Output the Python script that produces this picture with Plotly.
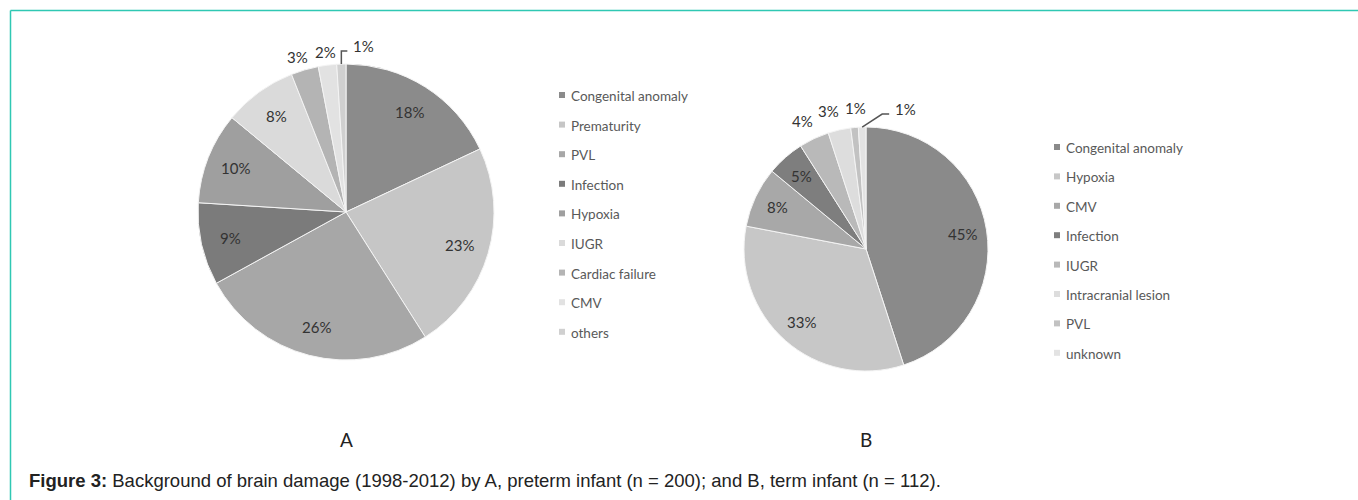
import numpy as np
import plotly.graph_objects as go

W, H = 1358, 500

# Preterm infants (A)
preterm_causes = ["Congenital anomaly", "Prematurity", "PVL", "Infection", "Hypoxia",
                  "IUGR", "Cardiac failure", "CMV", "others"]
preterm_pct = [18, 23, 26, 9, 10, 8, 3, 2, 1]
preterm_colors = ["#8b8b8b", "#c6c6c6", "#a7a7a7", "#7b7b7b", "#9f9f9f",
                  "#dadada", "#b4b4b4", "#e2e2e2", "#d0d0d0"]
preterm_label_mode = ["in"] * 6 + ["out", "out", "lead"]
preterm_label_nudge = [0] * 6 + [-3, 0, 0]

# Term infants (B)
term_causes = ["Congenital anomaly", "Hypoxia", "CMV", "Infection", "IUGR",
               "Intracranial lesion", "PVL", "unknown"]
term_pct = [45, 33, 8, 5, 4, 3, 1, 1]
term_colors = ["#8a8a8a", "#c7c7c7", "#a8a8a8", "#7e7e7e", "#b9b9b9",
               "#dddddd", "#c2c2c2", "#e3e3e3"]
term_label_mode = ["in"] * 4 + ["out", "out", "out", "lead"]
term_label_nudge = [0] * 4 + [-3, -7, 3, 0]

panel_letters = ["A", "B"]
caption = ("<b>Figure 3:</b> Background of brain damage (1998-2012) by A, preterm infant "
           "(n = 200); and B, term infant (n = 112).")

TEXT_FONT = "Lato, Carlito, Calibri, sans-serif"
LABEL_COLOR = "#333333"
LEGEND_COLOR = "#595959"
BORDER = "#2fc8b3"

# Layout geometry for each pie, in page pixels
pies = [
    dict(causes=preterm_causes, pct=preterm_pct, colors=preterm_colors,
         modes=preterm_label_mode, nudge=preterm_label_nudge,
         cx=346, cy=212, r=148, k_in=0.80, k_out=1.09,
         lead=(0, -13, 6), legend_x=562, legend_y0=96, legend_dy=29.6, letter_x=346),
    dict(causes=term_causes, pct=term_pct, colors=term_colors,
         modes=term_label_mode, nudge=term_label_nudge,
         cx=866, cy=249, r=122, k_in=0.80, k_out=1.16,
         lead=(20, -13, 7), legend_x=1057, legend_y0=148, legend_dy=29.4, letter_x=866),
]

fig = go.Figure()
# empty trace so the pixel-unit helper axes exist for shapes/annotations
fig.add_trace(go.Scatter(x=[], y=[], showlegend=False, hoverinfo="skip"))

annotations = []
shapes = []

for p in pies:
    cx, cy, r = p["cx"], p["cy"], p["r"]
    fig.add_trace(go.Pie(
        labels=p["causes"], values=p["pct"], sort=False, direction="clockwise",
        rotation=0, textinfo="none", hoverinfo="label+value",
        marker=dict(colors=p["colors"], line=dict(color="#f4f4f4", width=1)),
        domain=dict(x=[(cx - r) / W, (cx + r) / W],
                    y=[(H - cy - r) / H, (H - cy + r) / H]),
        showlegend=False,
    ))

    vals = np.array(p["pct"], dtype=float)
    ends = np.cumsum(vals) / vals.sum() * 360.0
    starts = ends - vals / vals.sum() * 360.0
    mids = np.radians((starts + ends) / 2)

    for v, th, mode, nx in zip(p["pct"], mids, p["modes"], p["nudge"]):
        txt = f"{v}%"
        font = dict(family=TEXT_FONT, size=15, color=LABEL_COLOR)
        if mode in ("in", "out"):
            d = (p["k_in"] if mode == "in" else p["k_out"]) * r
            annotations.append(dict(x=cx + d * np.sin(th) + nx, y=cy - d * np.cos(th),
                                    text=txt, showarrow=False, font=font,
                                    xanchor="center", yanchor="middle"))
        else:
            ex, ey = cx + r * np.sin(th), cy - r * np.cos(th)
            dx, dy, run = p["lead"]
            bx, by = ex + dx, ey + dy
            shapes.append(dict(type="path", xref="x", yref="y",
                               path=f"M {ex},{ey} L {bx},{by} L {bx + run},{by}",
                               line=dict(color="#555555", width=1.5)))
            annotations.append(dict(x=bx + run + 4, y=by - 5, text=txt, showarrow=False,
                                    font=font, xanchor="left", yanchor="middle"))

    # legend: swatch + category name
    for i, (name, col) in enumerate(zip(p["causes"], p["colors"])):
        ly = p["legend_y0"] + i * p["legend_dy"]
        shapes.append(dict(type="rect", xref="x", yref="y",
                           x0=p["legend_x"] - 3, x1=p["legend_x"] + 3,
                           y0=ly - 4, y1=ly + 2, fillcolor=col, line=dict(width=0)))
        annotations.append(dict(x=p["legend_x"] + 7, y=ly, text=name, showarrow=False,
                                xanchor="left", yanchor="middle",
                                font=dict(family=TEXT_FONT, size=13.5, color=LEGEND_COLOR)))

for p, letter in zip(pies, panel_letters):
    annotations.append(dict(x=p["letter_x"], y=439, text=letter, showarrow=False,
                            xanchor="center", yanchor="middle",
                            font=dict(family=TEXT_FONT, size=19, color="#222222")))

annotations.append(dict(x=27, y=480, text=caption, showarrow=False, xanchor="left",
                        yanchor="middle",
                        font=dict(family="Liberation Sans, Arial, sans-serif", size=18.5,
                                  color="#222222")))

# teal frame (top and left edges)
shapes.append(dict(type="line", xref="x", yref="y", x0=10.5, y0=10.5, x1=W, y1=10.5,
                   line=dict(color=BORDER, width=1.5)))
shapes.append(dict(type="line", xref="x", yref="y", x0=10.5, y0=10.5, x1=10.5, y1=H,
                   line=dict(color=BORDER, width=1.5)))

fig.update_layout(
    width=W, height=H, autosize=False,
    margin=dict(l=0, r=0, t=0, b=0),
    paper_bgcolor="white", plot_bgcolor="white",
    xaxis=dict(range=[0, W], visible=False, fixedrange=True, domain=[0, 1]),
    yaxis=dict(range=[H, 0], visible=False, fixedrange=True, domain=[0, 1]),
    annotations=annotations, shapes=shapes, showlegend=False,
)

fig.write_html("out.html")
